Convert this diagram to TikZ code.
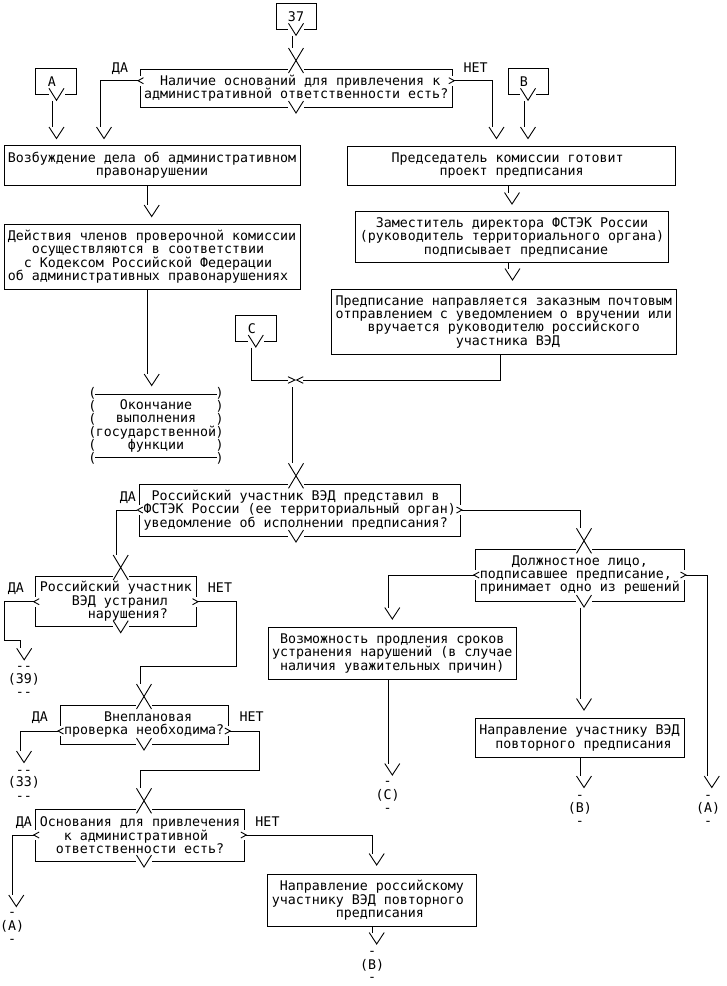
\documentclass[tikz,border=0pt]{standalone}
\usepackage{fontspec}
\newfontfamily\dmono{DejaVu Sans Mono}
\newcommand\chpad{\hphantom{0}}
\tikzset{
  ln/.style={line width=0.9pt, black},
  box/.style={draw, line width=0.9pt, inner sep=0pt, align=center},
  lab/.style={anchor=base, inner sep=0pt},
}
% V arrow head: name, vertex x, vertex y
\newcommand\vhead[3]{%
  \draw[ln] ({#2-7.5},{#3-11.5}) -- (#2,#3) -- ({#2+7.5},{#3-11.5});
  \coordinate (#1) at ({#2-4},{#3-11.5});}
% X at the top of a decision: name, centre x, box top y
\newcommand\xhead[3]{%
  \fill[white] ({#2-8},{#3-1.5}) rectangle ({#2+8},{#3+1.5});
  \draw[ln] ({#2-7.5},{#3-21}) -- ({#2+7.5},{#3+4}) ({#2+7.5},{#3-21}) -- ({#2-7.5},{#3+4});
  \coordinate (#1) at ({#2-4},{#3-21});}
% V in a bottom border: name, centre x, bottom y
\newcommand\bvee[3]{%
  \fill[white] ({#2-8},{#3-1.5}) rectangle ({#2+8},{#3+1.5});
  \draw[ln] ({#2-7.5},{#3-6}) -- (#2,{#3+6}) -- ({#2+7.5},{#3-6});
  \coordinate (#1) at ({#2-4},{#3+6.5});}
% < in a left border
\newcommand\lchev[3]{%
  \fill[white] ({#2-1.5},{#3-5}) rectangle ({#2+1.5},{#3+5});
  \draw[ln] ({#2+3.5},{#3-3}) -- ({#2-2},#3) -- ({#2+3.5},{#3+3});
  \coordinate (#1) at ({#2-2},#3);}
% > in a right border
\newcommand\rchev[3]{%
  \fill[white] ({#2-1.5},{#3-5}) rectangle ({#2+1.5},{#3+5});
  \draw[ln] ({#2-3.5},{#3-3}) -- ({#2+2},#3) -- ({#2-3.5},{#3+3});
  \coordinate (#1) at ({#2+2},#3);}
\begin{document}
\begin{tikzpicture}[x=1pt,y=-1pt,font={\dmono\fontsize{13.3}{13.3}\selectfont\lineskiplimit=-30pt\relax}]
\useasboundingbox (0,0) rectangle (727,986);

% ---------- boxes ----------
\node[box,minimum width=40,minimum height=26] (n37) at (296,16.3) {37};
\node[box,minimum width=40.3,minimum height=26.3] (nA) at (55.85,81.15) {А\chpad};
\node[box,minimum width=40,minimum height=26.3] (nB) at (528,81.15) {В\chpad};
\node[box,minimum width=40.3,minimum height=25.3] (nC) at (255.85,328.35) {С\chpad};

\node[box,minimum width=312.3,minimum height=38] (d1) at (296.15,88)
  {\chpad Наличие оснований для привлечения к\\административной ответственности есть?};
\node[box,minimum width=296,minimum height=39.3] (b1) at (152,165.35)
  {Возбуждение дела об административном\\правонарушении};
\node[box,minimum width=328.3,minimum height=39] (b2) at (511.65,165.5)
  {Председатель комиссии готовит\chpad\\проект предписания};
\node[box,minimum width=312.6,minimum height=51] (b3) at (512,237.2)
  {Заместитель директора ФСТЭК России\\(руководитель территориального органа)\\\chpad подписывает предписание};
\node[box,minimum width=344.3,minimum height=64.7] (b4) at (503.85,321.65)
  {Предписание направляется заказным почтовым\\отправлением с уведомлением о вручении или\\вручается руководителю российского\\\chpad участника ВЭД};
\node[box,minimum width=296,minimum height=65.3] (b5) at (152,256.65)
  {Действия членов проверочной комиссии\\осуществляются в соответствии\chpad\\с Кодексом Российской Федерации\chpad\\об административных правонарушениях\chpad};
\node[box,minimum width=320.7,minimum height=51.7] (d2) at (299.65,510.15)
  {Российский участник ВЭД представил в\chpad\\ФСТЭК России (ее территориальный орган)\\уведомление об исполнении предписания?\chpad};
\node[box,minimum width=160.3,minimum height=50.7] (d3) at (115.85,601.35)
  {Российский участник\\\chpad ВЭД устранил\\\chpad\chpad\chpad нарушения?};
\node[box,minimum width=208.3,minimum height=51.7] (d4) at (579.85,575.15)
  {Должностное лицо,\\подписавшее предписание,\chpad\\принимает одно из решений};
\node[box,minimum width=248,minimum height=52] (b6) at (392.3,653.3)
  {Возможность продления сроков\\устранения нарушений (в случае\\наличия уважительных причин)};
\node[box,minimum width=168.3,minimum height=39] (d5) at (144.15,724.5)
  {\chpad Внеплановая\\проверка необходима?};
\node[box,minimum width=208.6,minimum height=51.7] (d6) at (140,835.15)
  {Основания для привлечения\\к административной\chpad\\ответственности есть?};
\node[box,minimum width=209,minimum height=39] (b7) at (579.5,737.8)
  {Направление участнику ВЭД\\\chpad повторного предписания};
\node[box,minimum width=208.3,minimum height=51.7] (b8) at (371.85,900.15)
  {Направление российскому\\участнику ВЭД повторного\chpad\\\chpad\chpad предписания};

% ---------- terminator ----------
\foreach \i in {0,...,5}{
  \node[lab] (tpl\i) at (92.5,{397.2+13*\i}) {(};
  \node[lab] (tpr\i) at (219.7,{397.2+13*\i}) {)};
}
\draw[ln] (95,394) -- (217,394);
\draw[ln] (95,457.5) -- (217,457.5);
\node[inner sep=0pt,align=center] (term) at (156,426)
  {Окончание\\выполнения\\государственной\\функции};

% ---------- border symbols ----------
\bvee{n37v}{296}{29.3}
\bvee{nAv}{56.5}{94.3}
\bvee{nBv}{528}{94.3}
\bvee{nCv}{255.8}{341}

\xhead{d1x}{296}{69}
\lchev{d1l}{140}{80.7}
\rchev{d1r}{452.3}{80.7}
\bvee{d1v}{296}{107}

\xhead{d2x}{296}{484.3}
\lchev{d2l}{139.3}{510}
\rchev{d2r}{460}{510}
\bvee{d2v}{296}{536}

\xhead{d3x}{120.7}{576}
\lchev{d3l}{35.7}{601.7}
\rchev{d3r}{196}{601.7}
\bvee{d3v}{120.7}{626.7}

\xhead{d4x}{584}{549.3}
\lchev{d4l}{475.7}{575}
\rchev{d4r}{684}{575}
\bvee{d4v}{584}{601}

\xhead{d5x}{144}{705}
\lchev{d5l}{60}{731}
\rchev{d5r}{228.3}{731}
\bvee{d5v}{144}{744}

\xhead{d6x}{144}{809.3}
\lchev{d6l}{35.7}{835}
\rchev{d6r}{244.3}{835}
\bvee{d6v}{144}{861}

% ---------- arrow heads ----------
\vhead{vDA1}{104}{138.5}
\vhead{vNET1}{496.5}{138.5}
\vhead{vA}{56.5}{138.5}
\vhead{vB}{528}{138.5}
\vhead{vb5}{151.7}{216.5}
\vhead{vb3}{512}{204}
\vhead{vb4}{512.5}{280}
\vhead{vt}{151.7}{385.5}
\vhead{v39}{24.2}{659.8}
\vhead{vb6}{392.3}{619}
\vhead{vA2}{711.8}{787.5}
\vhead{vb7}{584}{710}
\vhead{vB2}{584}{787.5}
\vhead{vC}{392.3}{775}
\vhead{v33}{24}{762.5}
\vhead{vA3}{16.3}{906.5}
\vhead{vb8}{376.7}{865}
\vhead{vB3}{376.7}{944}

% ---------- named points ----------
\coordinate (b1o) at (147.7,185);
\coordinate (b2o) at (508,185);
\coordinate (b3o) at (508.5,262.7);
\coordinate (b5o) at (147.7,289.3);
\coordinate (b4o) at (500,354);
\coordinate (b6o) at (388.3,679.3);
\coordinate (b7o) at (580,757.3);
\coordinate (b8o) at (372.7,926);
\coordinate (mL) at (288,380);
\coordinate (mR) at (303.3,380);
\coordinate (mD) at (292,387.3);
\coordinate (k1) at (4,640);
\coordinate (k2) at (236,666.7);
\coordinate (k3) at (259.3,770);

% merge chevrons
\draw[ln] (288,376.7) -- (295,380) -- (288,383.3);
\draw[ln] (303.3,376.7) -- (296.7,380) -- (303.3,383.3);

% ---------- connectors ----------
\draw[ln] (n37v) -- (d1x);
\draw[ln] (d1l) -| (vDA1);
\draw[ln] (d1r) -| (vNET1);
\draw[ln] (nAv) -- (vA);
\draw[ln] (nBv) -- (vB);
\draw[ln] (b1o) -- (vb5);
\draw[ln] (b2o) -- (vb3);
\draw[ln] (b3o) -- (vb4);
\draw[ln] (b5o) -- (vt);
\draw[ln] (b4o) |- (mR);
\draw[ln] (nCv) |- (mL);
\draw[ln] (mD) -- (d2x);
\draw[ln] (d2l) -| (d3x);
\draw[ln] (d2r) -| (d4x);
\draw[ln] (d3l) -| (k1) -| (v39);
\draw[ln] (d3r) -| (k2) -| (d5x);
\draw[ln] (d4l) -| (vb6);
\draw[ln] (d4r) -| (vA2);
\draw[ln] (d4v) -- (vb7);
\draw[ln] (b7o) -- (vB2);
\draw[ln] (b6o) -- (vC);
\draw[ln] (d5l) -| (v33);
\draw[ln] (d5r) -| (k3) -| (d6x);
\draw[ln] (d6l) -| (vA3);
\draw[ln] (d6r) -| (vb8);
\draw[ln] (b8o) -- (vB3);

% ---------- branch labels ----------
\node[lab] (y1) at (120,72.3) {ДА};
\node[lab] (n1) at (475.7,72.3) {НЕТ};
\node[lab] (y2) at (127.8,501) {ДА};
\node[lab] (y3) at (15.8,592.6) {ДА};
\node[lab] (n3) at (220,592.6) {НЕТ};
\node[lab] (y5) at (40,721.6) {ДА};
\node[lab] (n5) at (251.7,721.6) {НЕТ};
\node[lab] (y6) at (23.8,826) {ДА};
\node[lab] (n6) at (267.5,826) {НЕТ};

% ---------- off-page references ----------
\node[lab] (r39a) at (23.8,670.5) {-{}-};
\node[lab] (r39b) at (23.8,683.3) {(39)};
\node[lab] (r39c) at (23.8,696) {-{}-};
\node[lab] (r33a) at (23.8,774) {-{}-};
\node[lab] (r33b) at (23.8,786.7) {(33)};
\node[lab] (r33c) at (23.8,800) {-{}-};
\node[lab] (rAla) at (12.2,916) {-};
\node[lab] (rAlb) at (12.2,930) {(А)};
\node[lab] (rAlc) at (12.2,943.5) {-};
\node[lab] (rCa) at (387.7,785.7) {-};
\node[lab] (rCb) at (387.7,799) {(С)};
\node[lab] (rCc) at (387.7,812.3) {-};
\node[lab] (rBma) at (579.8,799) {-};
\node[lab] (rBmb) at (579.8,812.3) {(В)};
\node[lab] (rBmc) at (579.8,825.7) {-};
\node[lab] (rAra) at (708.2,799) {-};
\node[lab] (rArb) at (708.2,812.3) {(А)};
\node[lab] (rArc) at (708.2,825.7) {-};
\node[lab] (rBba) at (372.2,955.7) {-};
\node[lab] (rBbb) at (372.2,969) {(В)};
\node[lab] (rBbc) at (372.2,981) {-};
\end{tikzpicture}
\end{document}
